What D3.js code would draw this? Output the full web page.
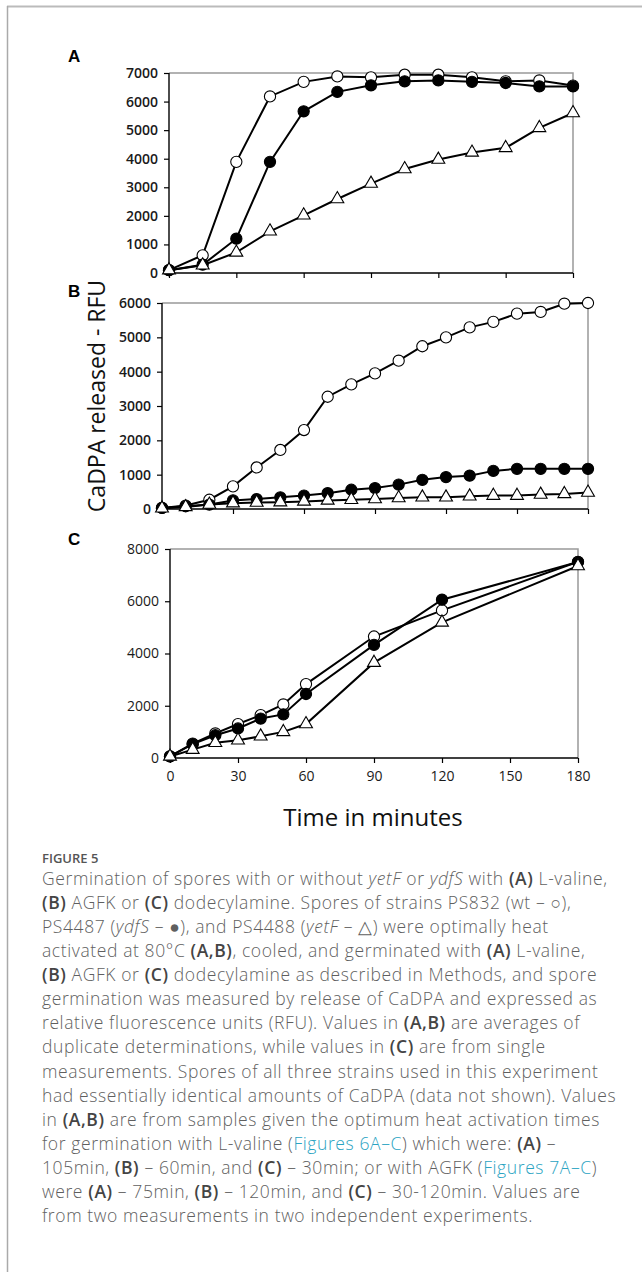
<!DOCTYPE html>
<html>
<head>
<meta charset="utf-8">
<script src="https://cdn.jsdelivr.net/npm/d3@7"></script>
<style>
  body { margin: 0; background: #fff; }
  svg { display: block; }
  .tick text { font-family: "Open Sans", sans-serif; }
</style>
</head>
<body>
<div id="chart"></div>
<script>
// Panel A: L-valine, sampled every 15 min
let timesA = [0, 15, 30, 45, 60, 75, 90, 105, 120, 135, 150, 165, 180];
let wtA    = [100, 620, 3890, 6180, 6690, 6880, 6850, 6940, 6940, 6850, 6710, 6740, 6560];
let ydfSA  = [100, 290, 1200, 3890, 5660, 6340, 6570, 6710, 6740, 6690, 6650, 6530, 6530];
let yetFA  = [100, 270, 720, 1460, 2020, 2590, 3130, 3640, 3970, 4220, 4380, 5080, 5600];

// Panel B: AGFK, sampled every 10 min
let timesB = [0, 10, 20, 30, 40, 50, 60, 70, 80, 90, 100, 110, 120, 130, 140, 150, 160, 170, 180];
let wtB    = [30, 100, 270, 660, 1210, 1720, 2300, 3270, 3630, 3950, 4320, 4740, 5000, 5290, 5450, 5690, 5740, 5980, 6000];
let ydfSB  = [30, 80, 130, 250, 290, 340, 390, 460, 560, 610, 710, 850, 930, 970, 1110, 1170, 1170, 1170, 1170];
let yetFB  = [20, 60, 130, 170, 190, 200, 220, 250, 270, 290, 320, 340, 340, 370, 390, 390, 420, 440, 480];

// Panel C: dodecylamine
let timesC = [0, 10, 20, 30, 40, 50, 60, 90, 120, 180];
let wtC    = [60, 550, 940, 1300, 1640, 2050, 2830, 4650, 5650, 7510];
let ydfSC  = [60, 530, 870, 1130, 1510, 1670, 2450, 4330, 6060, 7500];
let yetFC  = [60, 320, 580, 680, 830, 1000, 1300, 3650, 5190, 7350];

let xTicks = [0, 30, 60, 90, 120, 150, 180];

let panels = [
  { label: "A", times: timesA, series: [wtA, ydfSA, yetFA], yMax: 7000, yStep: 1000,
    left: 169, right: 573, top: 73, bottom: 273, xLabels: false, bold: true },
  { label: "B", times: timesB, series: [wtB, ydfSB, yetFB], yMax: 6000, yStep: 1000,
    left: 162, right: 588, top: 303, bottom: 509, xLabels: false, bold: true },
  { label: "C", times: timesC, series: [wtC, ydfSC, yetFC], yMax: 8000, yStep: 2000,
    left: 170, right: 578, top: 549, bottom: 758, xLabels: true, bold: false }
];
let labelY = { A: 62, B: 297, C: 545 };
let markers = ["open", "filled", "triangle"];

let svg = d3.select("#chart").append("svg")
    .attr("width", 642)
    .attr("height", 1272);

// page frame
svg.append("line").attr("x1", 7).attr("x2", 642).attr("y1", 6.5).attr("y2", 6.5)
    .attr("stroke", "#bbb").attr("stroke-width", 2);
svg.append("line").attr("x1", 7.5).attr("x2", 7.5).attr("y1", 6).attr("y2", 1272)
    .attr("stroke", "#aaa").attr("stroke-width", 1.5);

panels.forEach(function(p) {
    let x = d3.scaleLinear().domain([0, 180]).range([p.left, p.right]);
    let y = d3.scaleLinear().domain([0, p.yMax]).range([p.bottom, p.top]);
    let g = svg.append("g");

    // gray plot-area border (top and right)
    g.append("path")
        .attr("d", "M" + p.left + "," + p.top + "H" + p.right + "V" + p.bottom)
        .attr("fill", "none").attr("stroke", "#999").attr("stroke-width", 1.5);

    let yAxis = d3.axisLeft(y)
        .tickValues(d3.range(0, p.yMax + 1, p.yStep))
        .tickFormat(d3.format("d"))
        .tickSize(5).tickPadding(6);
    let xAxis = d3.axisBottom(x)
        .tickValues(xTicks)
        .tickSize(5).tickPadding(8)
        .tickFormat(p.xLabels ? d3.format("d") : "");

    let ya = g.append("g").attr("transform", "translate(" + p.left + ",0)").call(yAxis);
    let xa = g.append("g").attr("transform", "translate(0," + p.bottom + ")").call(xAxis);
    [ya, xa].forEach(function(a) {
        a.select(".domain").attr("stroke", "#000").attr("stroke-width", 1.4);
        a.selectAll(".tick line").attr("stroke", "#000").attr("stroke-width", 1.2);
        a.selectAll(".tick text")
            .attr("fill", "#1a1a1a")
            .style("font-size", "14px")
            .style("font-weight", p.bold ? 600 : 400);
    });
    xa.select(".domain").attr("d", "M" + p.left + ",0H" + p.right);
    ya.select(".domain").attr("d", "M0," + p.bottom + "V" + p.top);

    let line = d3.line()
        .x(function(d, i) { return x(p.times[i]); })
        .y(function(d) { return y(d); });

    p.series.forEach(function(vals, si) {
        let kind = markers[si];
        g.append("path")
            .datum(vals)
            .attr("d", line)
            .attr("fill", "none")
            .attr("stroke", "#000")
            .attr("stroke-width", 2);

        let pts = g.selectAll(".m" + si)
            .data(vals)
            .enter();
        if (kind === "triangle") {
            pts.append("path")
                .attr("d", d3.symbol().type(d3.symbolTriangle).size(72))
                .attr("transform", function(d, i) { return "translate(" + x(p.times[i]) + "," + y(d) + ")"; })
                .attr("fill", "#fff")
                .attr("stroke", "#000")
                .attr("stroke-width", 1.1);
        } else {
            pts.append("circle")
                .attr("cx", function(d, i) { return x(p.times[i]); })
                .attr("cy", function(d) { return y(d); })
                .attr("r", 5.6)
                .attr("fill", kind === "filled" ? "#000" : "#fff")
                .attr("stroke", "#000")
                .attr("stroke-width", 1.1);
        }
    });

    svg.append("text")
        .attr("x", 68)
        .attr("y", labelY[p.label])
        .style("font-family", "'Liberation Sans', Arial, sans-serif")
        .style("font-weight", "bold")
        .style("font-size", "17px")
        .text(p.label);
});

// axis titles
svg.append("text")
    .attr("transform", "translate(105,396) rotate(-90)")
    .attr("text-anchor", "middle")
    .style("font-family", "'Open Sans', sans-serif")
    .style("font-size", "23px")
    .attr("fill", "#111")
    .text("CaDPA released - RFU");

svg.append("text")
    .attr("x", 373)
    .attr("y", 826)
    .attr("text-anchor", "middle")
    .style("font-family", "'Open Sans', sans-serif")
    .style("font-size", "24px")
    .attr("fill", "#111")
    .text("Time in minutes");

// caption
svg.append("text")
    .attr("x", 42)
    .attr("y", 863)
    .style("font-family", "'Open Sans', sans-serif")
    .style("font-size", "13px")
    .style("font-weight", 600)
    .attr("fill", "#555")
    .text("FIGURE 5");

let captionLines = [
  [["Germination of spores with or without "], ["yetF", "i"], [" or "], ["ydfS", "i"], [" with "], ["(A)", "b"], [" L-valine,"]],
  [["(B)", "b"], [" AGFK or "], ["(C)", "b"], [" dodecylamine. Spores of strains PS832 (wt \u2013 \u25CB),"]],
  [["PS4487 ("], ["ydfS", "i"], [" \u2013 \u25CF), and PS4488 ("], ["yetF", "i"], [" \u2013 \u25B3) were optimally heat"]],
  [["activated at 80\u00B0C "], ["(A,B)", "b"], [", cooled, and germinated with "], ["(A)", "b"], [" L-valine,"]],
  [["(B)", "b"], [" AGFK or "], ["(C)", "b"], [" dodecylamine as described in Methods, and spore"]],
  [["germination was measured by release of CaDPA and expressed as"]],
  [["relative fluorescence units (RFU). Values in "], ["(A,B)", "b"], [" are averages of"]],
  [["duplicate determinations, while values in "], ["(C)", "b"], [" are from single"]],
  [["measurements. Spores of all three strains used in this experiment"]],
  [["had essentially identical amounts of CaDPA (data not shown). Values"]],
  [["in "], ["(A,B)", "b"], [" are from samples given the optimum heat activation times"]],
  [["for germination with L-valine ("], ["Figures 6A\u2013C", "l"], [") which were: "], ["(A)", "b"], [" \u2013"]],
  [["105min, "], ["(B)", "b"], [" \u2013 60min, and "], ["(C)", "b"], [" \u2013 30min; or with AGFK ("], ["Figures 7A\u2013C", "l"], [")"]],
  [["were "], ["(A)", "b"], [" \u2013 75min, "], ["(B)", "b"], [" \u2013 120min, and "], ["(C)", "b"], [" \u2013 30-120min. Values are"]],
  [["from two measurements in two independent experiments."]]
];

let cap = svg.append("g")
    .style("font-family", "'Open Sans', sans-serif")
    .style("font-size", "17.5px")
    .style("font-weight", 300)
    .style("letter-spacing", "0.6px")
    .attr("fill", "#5f5f5f");

captionLines.forEach(function(segs, li) {
    let t = cap.append("text")
        .attr("x", 42)
        .attr("y", 885 + li * 24.07);
    segs.forEach(function(s) {
        let ts = t.append("tspan").text(s[0]);
        if (s[1] === "b") ts.style("font-weight", 600).attr("fill", "#444");
        if (s[1] === "i") ts.style("font-style", "italic");
        if (s[1] === "l") ts.attr("fill", "#2aa3c2");
    });
});
</script>
</body>
</html>
